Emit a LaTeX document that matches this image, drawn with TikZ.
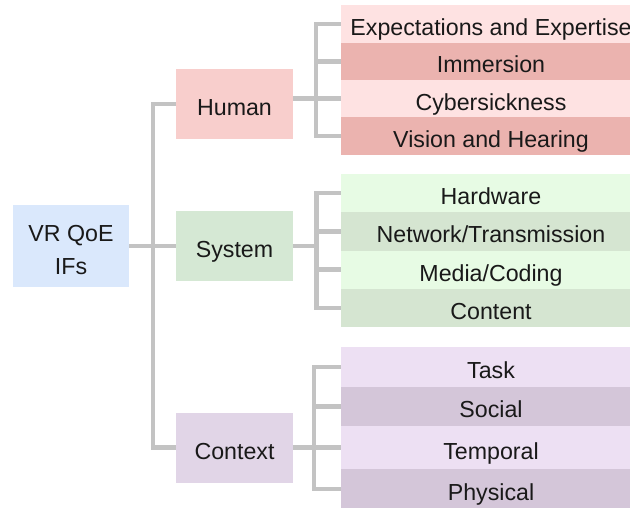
\documentclass[tikz,border=0pt]{standalone}
\usepackage{fontspec}
\setmainfont{Liberation Sans}

\definecolor{rootblue}{HTML}{DAE8FC}
\definecolor{humanred}{HTML}{F8CECC}
\definecolor{humanlight}{HTML}{FEE2E2}
\definecolor{humandark}{HTML}{EBB3AF}
\definecolor{systemgreen}{HTML}{D5E8D4}
\definecolor{systemlight}{HTML}{E7FBE4}
\definecolor{systemdark}{HTML}{D5E5D1}
\definecolor{contextpurple}{HTML}{E1D5E7}
\definecolor{contextlight}{HTML}{EDE0F3}
\definecolor{contextdark}{HTML}{D4C6D9}
\definecolor{linkgray}{HTML}{C3C3C3}

\begin{document}
\begin{tikzpicture}[x=1pt, y=-1pt]
	 \tikzset{
	 	box/.style={inner sep=0pt, align=center, text=black!90,
	 		font=\fontsize{23.2}{32.5}\selectfont},
	 	cat/.style={box, minimum width=116.5pt, minimum height=70pt,
	 		text height=23pt, text depth=0pt},
	 	item/.style={box, minimum width=300pt, text height=23pt, text depth=0pt},
	 	link/.style={draw=linkgray, line width=4.5pt}
	 }
	 \useasboundingbox (0, 0) rectangle (630, 507);
	 \clip (0, 0) rectangle (630, 507);
 
	 \node[box, fill=rootblue, minimum width=116pt, minimum height=82pt,
	 	text height=56pt, text depth=0pt] (root) at (71, 246) {VR QoE\\IFs};
	 \node[cat, fill=humanred] (human) at (234.5, 104) {Human};
	 \node[cat, fill=systemgreen] (system) at (234.5, 246) {System};
	 \node[cat, fill=contextpurple] (context) at (234.5, 447.5) {Context};
	 
	 \foreach \n/\t/\y/\h/\c in {h1/Expectations and Expertise/24/37.5/humanlight,
	 	h2/Immersion/61.4/37.5/humandark, h3/Cybersickness/98.6/37.5/humanlight,
	 	h4/Vision and Hearing/136.1/37.5/humandark,
	 	s1/Hardware/193.1/38.3/systemlight, s2/{Network/Transmission}/231.4/38.3/systemdark,
	 	s3/{Media/Coding}/269.7/38.3/systemlight, s4/Content/308/38.3/systemdark,
	 	c1/Task/367/39.4/contextlight, c2/Social/406.3/39.3/contextdark,
	 	c3/Temporal/447.7/43.3/contextlight, c4/Physical/489/39.7/contextdark}
	 \node[item, minimum height=\h pt, fill=\c] (\n) at (491, \y) {\t};
	 
	 % trunk
	 \coordinate (tr) at (153, 246);
	 \draw[link] (root) -- (tr);
	 \draw[link] (human.west) -| (tr) |- (context.west);
	 \draw[link] (tr) -- (system.west);
	 
	 % branches
	 \coordinate (hb) at (316, 0);
	 \coordinate (sb) at (316.5, 0);
	 \coordinate (cb) at (314, 0);
	 \draw[link] (human.east |- h3) -- (h3.west);
	 \draw[link] (system) -- (system -| sb);
	 \draw[link] (context.east |- c3) -- (c3.west);
	 \foreach \g/\b in {h/hb, s/sb, c/cb} {
	 	\draw[link] (\g1.west) -- (\g1.west -| \b) -- (\g4.west -| \b) -- (\g4.west);
	 	\draw[link] (\g2.west -| \b) -- (\g2.west);
	 	\draw[link] (\g3.west -| \b) -- (\g3.west);
	 }
\end{tikzpicture}
\end{document}
